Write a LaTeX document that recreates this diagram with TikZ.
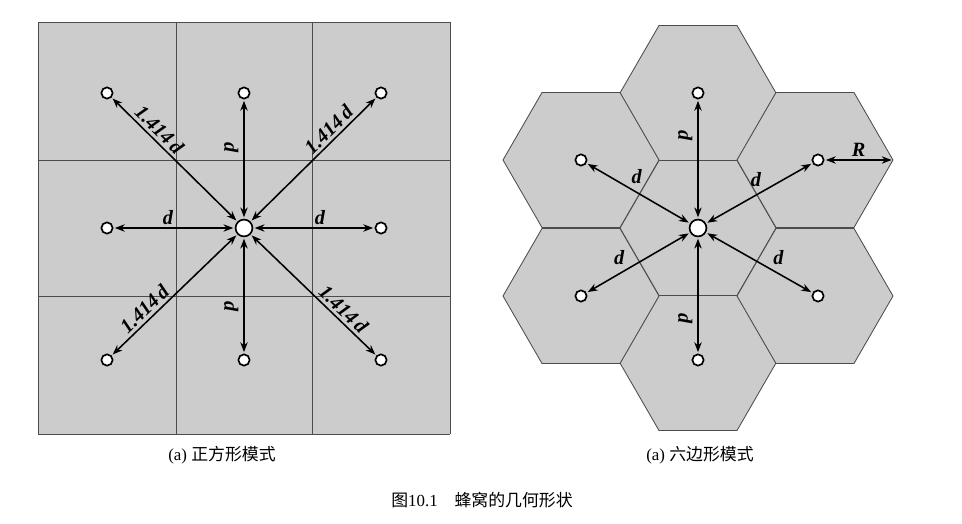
\documentclass[tikz,border=0pt]{standalone}
\usepackage{fontspec}
\setmainfont{Liberation Serif}
\newfontfamily\cjk{Noto Sans CJK SC}
\usetikzlibrary{arrows.meta, positioning}

\begin{document}
\begin{tikzpicture}[x=0.025cm, y=-0.025cm,
        cell/.style={fill=gray!40, draw=black!70, line width=0.6pt},
        site/.style={circle, draw, line width=1.2pt, fill=white, inner sep=0pt, minimum size=8pt},
        hub/.style={site, minimum size=12pt},
        link/.style={{Stealth[length=7pt]}-{Stealth[length=7pt]}, line width=1.1pt, shorten <=1pt, shorten >=1pt},
        lab/.style={font=\bfseries\itshape\Large, inner sep=2pt},
        vlab/.style={lab, rotate=-90, yshift=-9pt},
        captext/.style={font=\large}
    ]
    \useasboundingbox (0,0) rectangle (962,524);

    % Square cells
    \fill[gray!40] (38,22) rectangle (450,434);
    \foreach \v in {38,176,312,450} {
        \draw[black!70, line width=0.6pt] (\v,22) -- (\v,434);
        \draw[black!70, line width=0.6pt] (38,\v-16) -- (450,\v-16);
    }

    % Square sites
    \node[hub] (sc) at (244,228) {};
    \node[site] (snw) at (107,93) {};
    \node[site] (sn) at (244,93) {};
    \node[site] (sne) at (381,93) {};
    \node[site] (sw) at (107,228) {};
    \node[site] (se) at (381,228) {};
    \node[site] (ssw) at (107,360) {};
    \node[site] (ss) at (244,360) {};
    \node[site] (sse) at (381,360) {};

    \draw[link] (sc) -- node[lab, sloped, above, pos=0.68] {1.414\,d} (snw);
    \draw[link] (sc) -- node[vlab, pos=0.6] {d} (sn);
    \draw[link] (sc) -- node[lab, sloped, above, pos=0.68] {1.414\,d} (sne);
    \draw[link] (sc) -- node[lab, above, pos=0.55] {d} (sw);
    \draw[link] (sc) -- node[lab, above, pos=0.55] {d} (se);
    \draw[link] (sc) -- node[lab, sloped, above, pos=0.68] {1.414\,d} (ssw);
    \draw[link] (sc) -- node[vlab, pos=0.6] {d} (ss);
    \draw[link] (sc) -- node[lab, sloped, above, pos=0.68] {1.414\,d} (sse);

    % Hexagon cells
    \foreach \cx/\cy in {698/228, 698/93, 698/363, 581/160, 815/160, 581/296, 815/296}
        \draw[cell] (\cx+78,\cy) -- (\cx+39,\cy+67.5) -- (\cx-39,\cy+67.5)
            -- (\cx-78,\cy) -- (\cx-39,\cy-67.5) -- (\cx+39,\cy-67.5) -- cycle;

    % Hexagon sites
    \node[hub] (hc) at (698,228) {};
    \node[site] (hn) at (698,93) {};
    \node[site] (hs) at (698,360) {};
    \node[site] (hnw) at (581,160) {};
    \node[site] (hne) at (818,160) {};
    \node[site] (hsw) at (581,296) {};
    \node[site] (hse) at (818,296) {};
    \coordinate (hr) at (893,160);

    \draw[link] (hc) -- node[vlab, pos=0.7] {d} (hn);
    \draw[link] (hc) -- node[vlab, pos=0.7] {d} (hs);
    \draw[link] (hc) -- node[lab, above right, pos=0.6] {d} (hnw);
    \draw[link] (hc) -- node[lab, above left, pos=0.55] {d} (hne);
    \draw[link] (hc) -- node[lab, above left, pos=0.6] {d} (hsw);
    \draw[link] (hc) -- node[lab, above right, pos=0.6] {d} (hse);
    \draw[link] (hne) -- node[lab, above] {R} (hr);

    % Captions
    \node[captext] (capa) at (222,455) {(a) {\cjk 正方形模式}};
    \node[captext] (capb) at (700,455) {(a) {\cjk 六边形模式}};
    \node[captext] (fig) at (482,500) {{\cjk 图}10.1\quad{\cjk 蜂窝的几何形状}};
\end{tikzpicture}
\end{document}
